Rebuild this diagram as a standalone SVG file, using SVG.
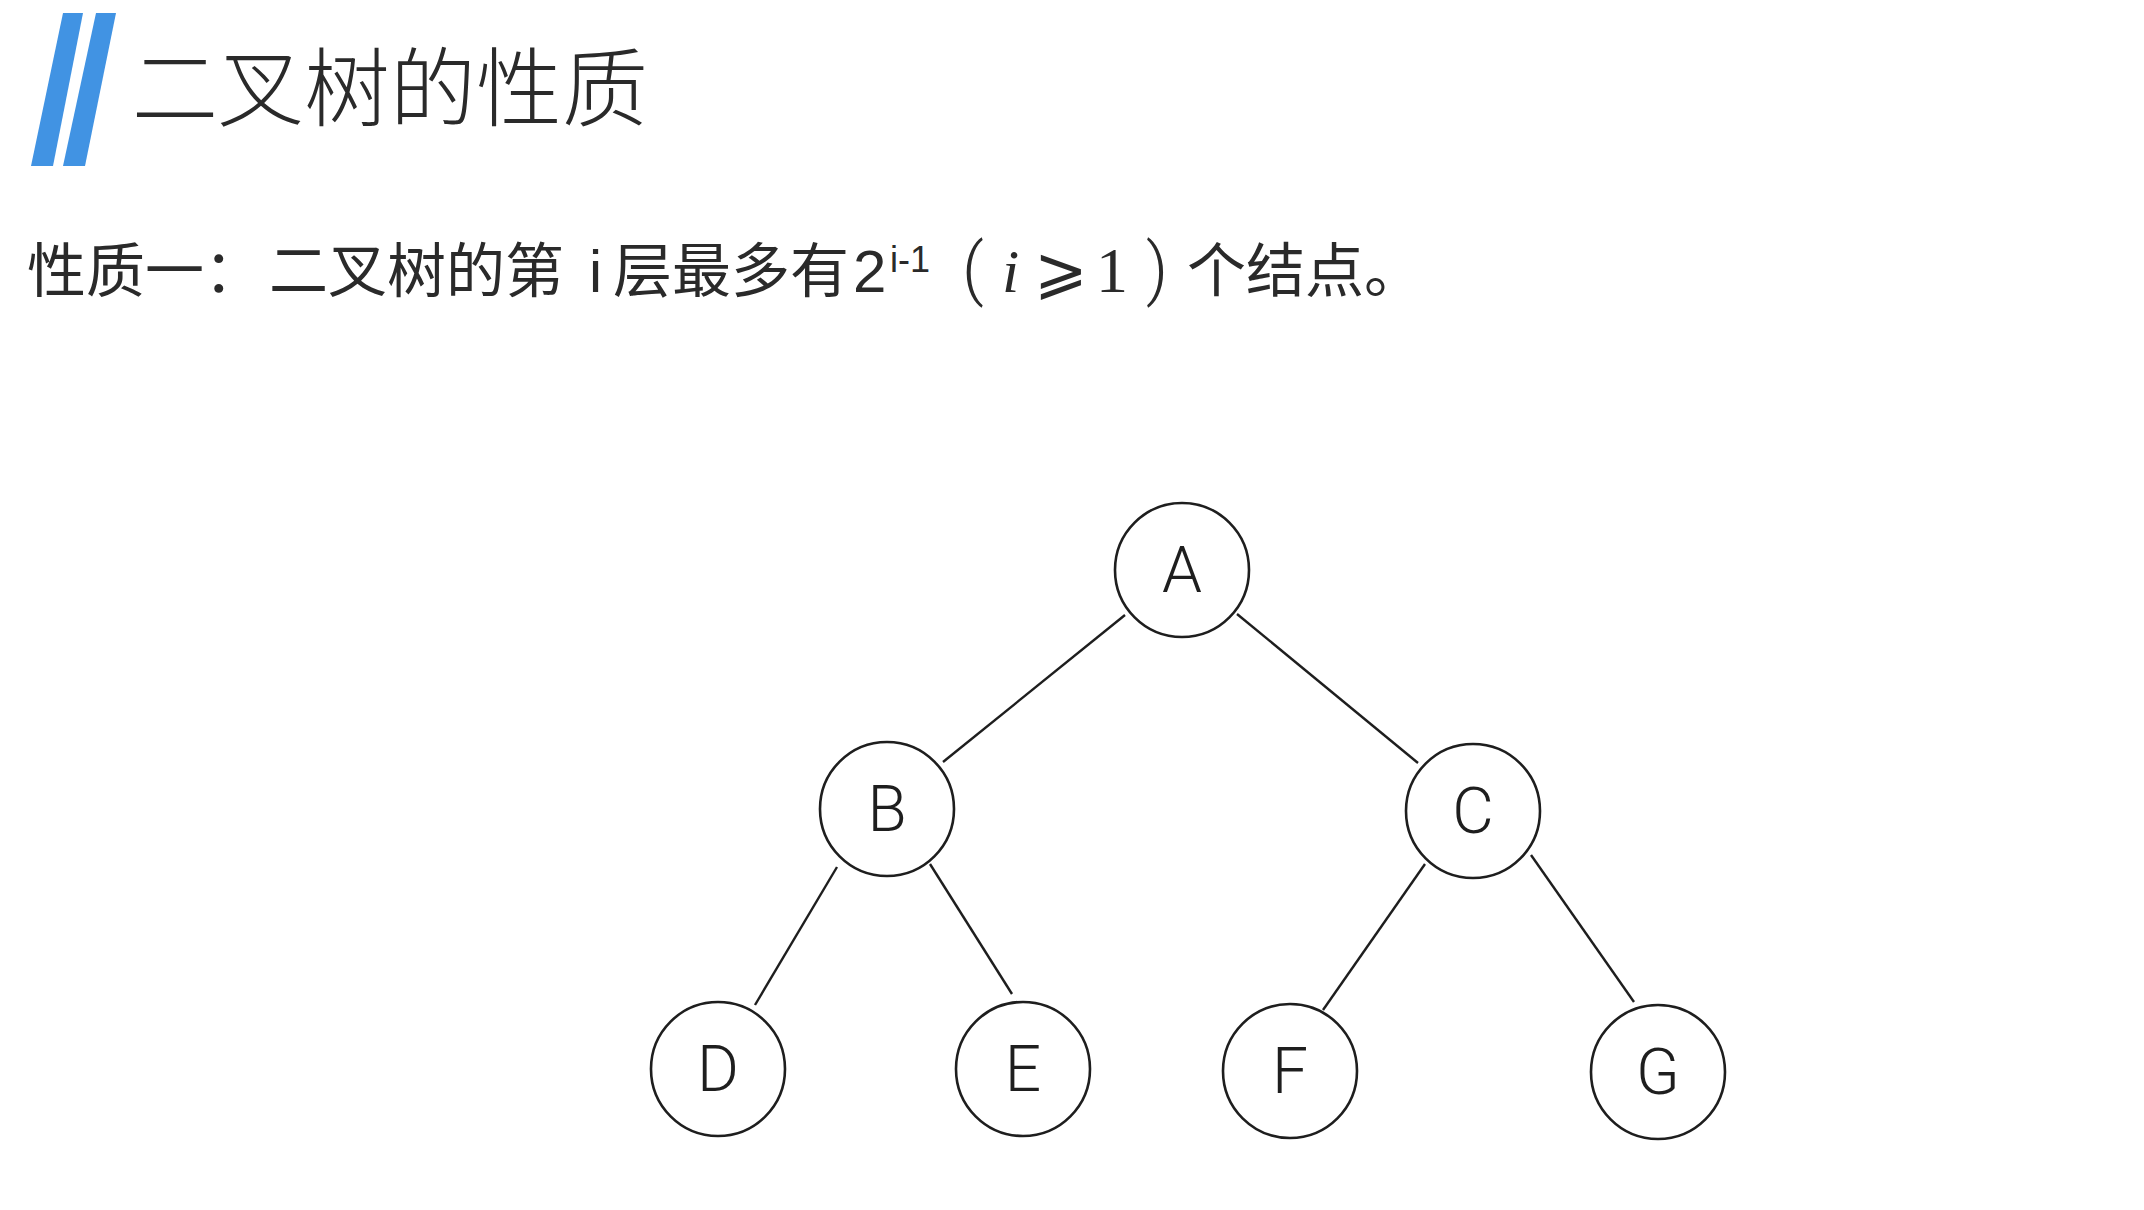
<svg xmlns="http://www.w3.org/2000/svg" width="2144" height="1210" viewBox="0 0 2144 1210">
<style>
.cjk{font-family:"Noto Sans CJK SC","Noto Sans",sans-serif;fill:#2a2a2a}
.lat{font-family:"Liberation Sans",Arial,sans-serif}
.par{font-family:Roboto,"Liberation Sans",sans-serif;font-weight:300;font-size:68px}
.ser{font-family:"Liberation Serif","Times New Roman",serif}
.node circle{fill:#fff;stroke:#1e1e1e;stroke-width:2.6}
.node text{font-family:Roboto,"Liberation Sans",sans-serif;font-weight:300;font-size:64px;fill:#1e1e1e;text-anchor:middle}
.edges line{stroke:#1e1e1e;stroke-width:2.4}
</style>
<rect width="2144" height="1210" fill="#fff"/>
<g id="title">
<polygon points="63,13 83,13 53,166 31,166" fill="#4193e3"/>
<polygon points="96,13 116,13 85,166 63,166" fill="#4193e3"/>
<text class="cjk" x="132" y="120" font-size="86" font-weight="300" fill="#333">二叉树的性质</text>
</g>
<g id="property">
<text class="cjk" x="27" y="292" font-size="59">性质一：<tspan x="269">二叉树的第</tspan><tspan class="lat" x="589">i</tspan><tspan x="613">层最多有</tspan><tspan class="lat" x="853" font-size="60">2</tspan><tspan class="lat" x="890" y="272" font-size="36">i-1</tspan><tspan class="par" x="962" y="292">(</tspan><tspan class="ser" x="1002" y="292" font-size="62" font-style="italic">i</tspan><tspan x="1034" font-size="64" font-family="DejaVu Sans,sans-serif">⩾</tspan><tspan class="ser" x="1096" font-size="64">1</tspan><tspan class="par" x="1146" y="292">)</tspan><tspan x="1187" y="292">个结点。</tspan></text>
</g>
<g class="edges" id="edges">
<line x1="1125" y1="615" x2="943" y2="762"/>
<line x1="1237" y1="614" x2="1418" y2="763"/>
<line x1="837" y1="867" x2="755" y2="1005"/>
<line x1="930" y1="864" x2="1012" y2="994"/>
<line x1="1425" y1="864" x2="1323" y2="1010"/>
<line x1="1531" y1="855" x2="1634" y2="1002"/>
</g>
<g class="node" id="node-A"><circle cx="1182" cy="570" r="67"/><text x="1182" y="592">A</text></g>
<g class="node" id="node-B"><circle cx="887" cy="809" r="67"/><text x="887" y="831">B</text></g>
<g class="node" id="node-C"><circle cx="1473" cy="811" r="67"/><text x="1473" y="833">C</text></g>
<g class="node" id="node-D"><circle cx="718" cy="1069" r="67"/><text x="718" y="1091">D</text></g>
<g class="node" id="node-E"><circle cx="1023" cy="1069" r="67"/><text x="1023" y="1091">E</text></g>
<g class="node" id="node-F"><circle cx="1290" cy="1071" r="67"/><text x="1290" y="1093">F</text></g>
<g class="node" id="node-G"><circle cx="1658" cy="1072" r="67"/><text x="1658" y="1094">G</text></g>
</svg>
